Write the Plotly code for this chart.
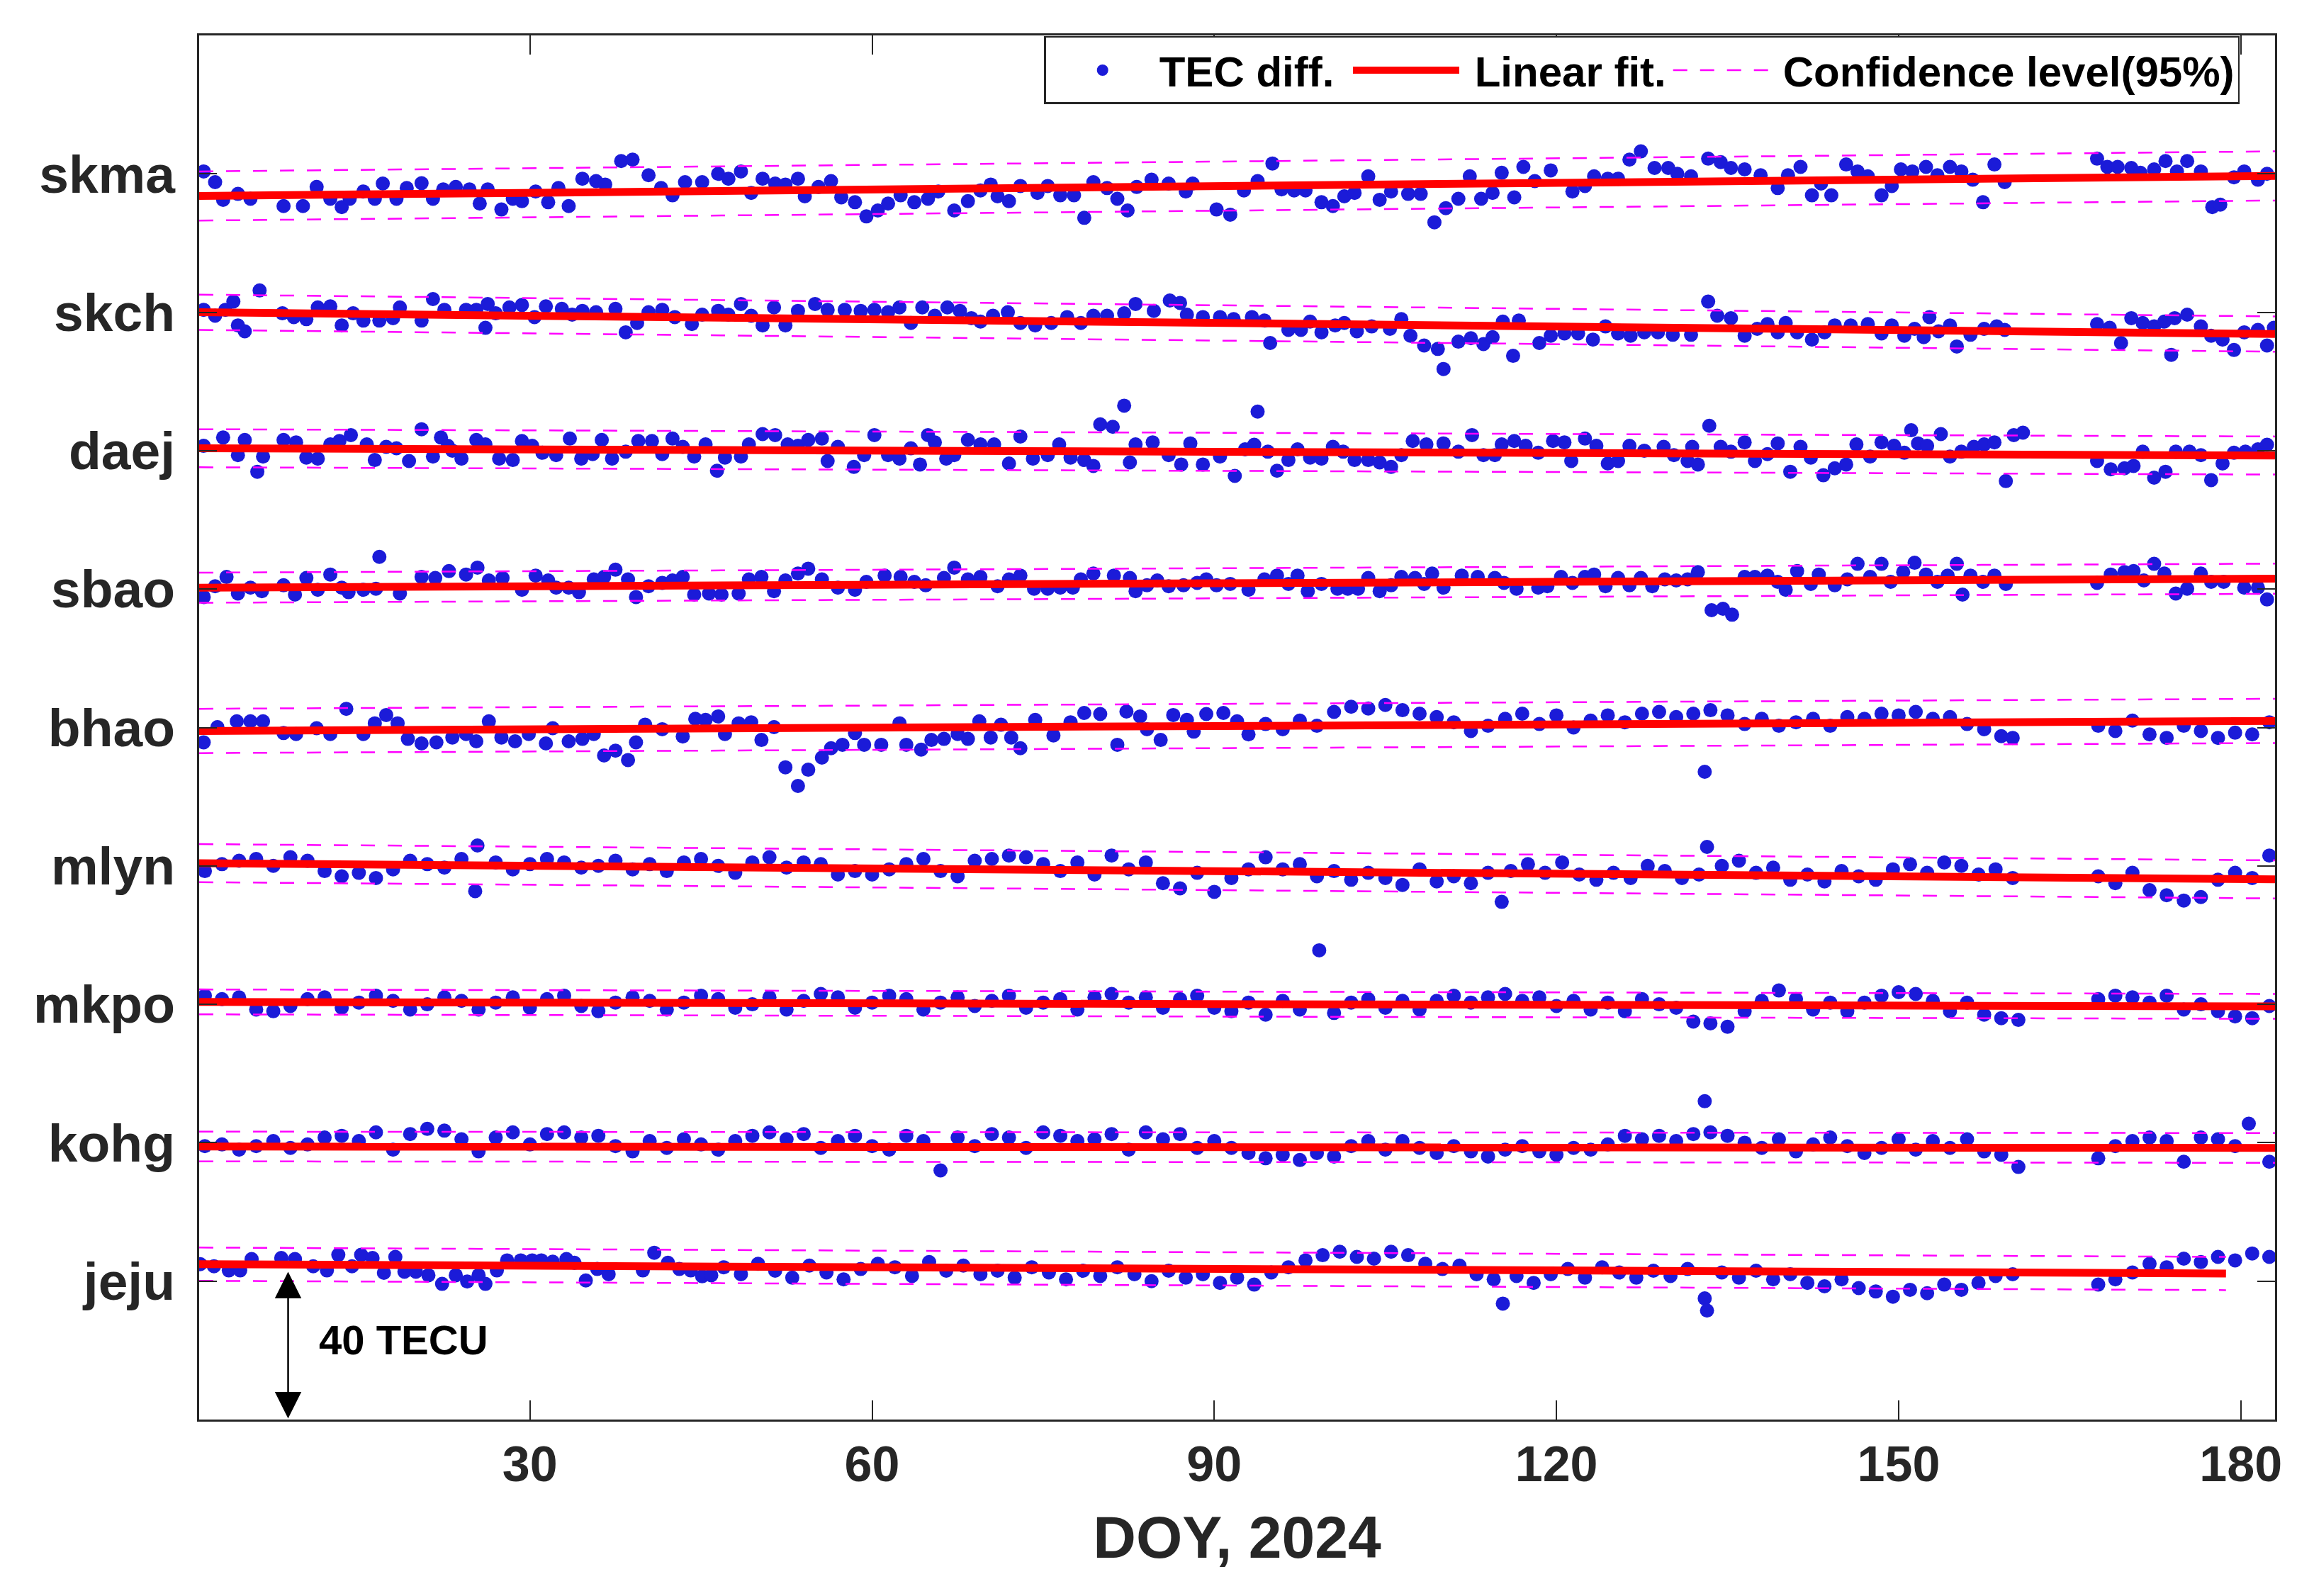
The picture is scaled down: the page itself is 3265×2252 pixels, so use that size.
import plotly.graph_objects as go

# TEC difference per station (TECU, relative to the station offset)
skma_doy = [1.4, 2.4, 3.1, 4.4, 5.5, 8.4, 10.1, 11.3, 12.5, 13.5, 14.2, 15.4, 16.4, 17.1, 18.3, 19.2, 20.5, 21.5, 22.4, 23.5,
            24.7, 25.6, 26.3, 27.5, 28.5, 29.3, 30.5, 31.6, 32.5, 33.4, 34.6, 35.8, 36.6, 38.0, 39.0, 40.4, 41.5, 42.5, 43.6, 45.1,
            46.5, 47.4, 48.5, 49.4, 50.4, 51.5, 52.4, 53.5, 54.1, 55.3, 56.4, 57.3, 58.5, 59.5, 60.5, 61.4, 62.5, 63.7, 64.9, 65.8,
            67.2, 68.4, 69.5, 70.4, 71.0, 72.0, 73.0, 74.5, 75.4, 76.5, 77.7, 78.6, 79.4, 80.6, 81.5, 82.4, 83.2, 84.5, 86.0, 87.5,
            88.1, 90.2, 91.4, 92.6, 93.8, 95.1, 95.9, 97.0, 98.0, 99.4, 100.4, 101.4, 102.3, 103.5, 104.5, 105.5, 107.0, 108.1, 109.3, 110.3,
            111.4, 112.4, 113.4, 114.4, 115.2, 116.3, 117.1, 118.1, 119.5, 121.4, 122.5, 123.3, 124.5, 125.4, 126.4, 127.4, 128.6, 129.8, 130.6, 131.8,
            133.3, 134.4, 135.3, 136.5, 137.9, 139.4, 140.3, 141.4, 142.4, 143.2, 144.1, 145.4, 146.4, 147.3, 148.5, 149.4, 150.2, 151.2, 152.4, 153.4,
            154.5, 155.5, 156.5, 157.4, 158.4, 159.3, 167.4, 168.3, 169.2, 170.4, 171.2, 172.4, 173.4, 174.4, 175.3, 176.5, 177.5, 178.2, 179.4, 180.3,
            181.5, 182.3]
skma_tec = [0.7, -2.4, -7.5, -5.8, -7.2, -9.3, -9.3, -3.8, -7.2, -9.6, -7.2, -5.1, -7.2, -2.8, -7.2, -4.1, -2.7, -7.2, -4.5, -3.8,
            -4.5, -8.6, -4.5, -10.3, -7.2, -7.9, -5.1, -8.2, -4.1, -9.3, -1.4, -2.1, -3.1, 3.7, 4.1, -0.4, -4.1, -6.2, -2.4, -2.4,
            0.0, -1.4, 0.7, -5.5, -1.4, -2.8, -3.1, -1.4, -6.5, -3.8, -2.1, -6.8, -8.2, -12.3, -10.6, -8.6, -6.2, -8.2, -7.2, -5.1,
            -10.6, -7.9, -4.8, -3.1, -6.5, -7.9, -3.5, -5.5, -3.5, -6.2, -6.2, -12.7, -2.4, -4.1, -7.2, -10.6, -3.8, -1.7, -2.8, -5.1,
            -2.8, -10.3, -11.8, -4.8, -2.1, 3.0, -4.5, -4.8, -4.8, -8.2, -9.3, -6.5, -5.5, -0.7, -7.5, -5.1, -5.8, -5.8, -14.0, -9.9,
            -7.2, -0.7, -7.2, -5.5, 0.3, -6.8, 2.0, -2.1, 1.0, -5.1, -3.5, -0.7, -1.4, -1.4, 4.1, 6.5, 1.7, 1.7, 0.0, -0.7,
            4.4, 3.4, 1.7, 1.3, -0.4, -4.1, -0.4, 2.0, -6.2, -2.8, -6.2, 2.7, 0.7, -0.7, -6.2, -3.5, 1.3, 0.7, 2.0, -0.4,
            2.0, 0.7, -1.7, -8.2, 2.7, -2.4, 4.4, 2.0, 2.0, 1.7, 0.3, 1.3, 3.7, 0.7, 3.7, 0.7, -9.6, -8.9, -1.0, 0.7,
            -1.7, 0.0]

skch_doy = [1.4, 2.4, 3.3, 4.0, 4.4, 5.0, 6.3, 8.3, 9.3, 10.4, 11.4, 12.5, 13.5, 14.5, 15.4, 16.8, 18.0, 18.6, 20.5, 21.5,
            22.5, 24.4, 25.3, 26.1, 26.3, 27.0, 28.2, 29.3, 30.4, 31.4, 32.8, 33.7, 34.6, 35.8, 37.5, 38.4, 39.4, 40.4, 41.6, 42.7,
            44.2, 45.1, 46.5, 47.4, 48.5, 49.4, 50.4, 51.4, 52.4, 53.5, 55.0, 56.1, 57.6, 59.0, 60.2, 61.4, 62.4, 63.4, 64.4, 65.5,
            66.6, 67.7, 68.7, 69.5, 70.6, 71.9, 73.0, 74.3, 75.7, 77.1, 78.3, 79.4, 80.6, 82.1, 83.1, 84.7, 86.1, 87.0, 87.6, 89.0,
            90.5, 91.7, 93.3, 94.4, 94.9, 96.5, 97.6, 98.4, 99.4, 100.6, 101.4, 102.5, 103.8, 105.4, 106.4, 107.2, 108.4, 109.6, 110.1, 111.4,
            112.5, 113.6, 114.4, 115.3, 116.2, 116.7, 118.5, 119.5, 120.7, 121.9, 123.2, 124.3, 125.4, 126.5, 127.7, 128.9, 130.2, 131.8, 133.3, 134.1,
            135.3, 136.5, 137.6, 138.5, 139.4, 140.1, 141.1, 142.4, 143.5, 144.4, 145.8, 147.3, 148.5, 149.4, 150.5, 151.4, 152.2, 152.7, 153.5, 154.5,
            155.1, 156.3, 157.5, 158.6, 159.3, 167.4, 168.5, 169.5, 170.4, 171.4, 172.4, 173.3, 173.9, 174.2, 175.3, 176.5, 177.4, 178.4, 179.4, 180.3,
            181.5, 182.3, 182.9]
skch_tec = [0.7, -1.0, 0.7, 3.1, -3.8, -5.5, 6.3, -0.3, -1.4, -2.0, 1.4, 1.7, -3.8, -0.3, -2.4, -2.4, -1.7, 1.4, -2.4, 3.8,
            0.7, 0.7, 0.7, -4.5, 2.4, -0.3, 1.4, 2.1, -1.4, 1.7, 1.0, -0.7, 0.4, 0.0, 1.0, -5.8, -3.1, 0.0, 0.7, -1.4,
            -3.4, -0.7, 0.4, -0.7, 2.4, -1.0, -3.8, 1.4, -3.8, 0.4, 2.4, 0.7, 0.7, 0.4, 0.7, 0.0, 1.4, -3.1, 1.4, -1.0,
            1.4, 0.4, -1.7, -2.7, -1.0, 0.0, -3.1, -3.8, -3.1, -1.4, -3.1, -1.0, -1.0, -0.3, 2.4, 0.4, 3.4, 2.7, -0.7, -1.4,
            -1.4, -2.0, -1.4, -2.4, -8.9, -5.1, -5.1, -2.7, -5.8, -3.8, -3.1, -5.5, -4.1, -4.8, -2.0, -6.8, -9.6, -10.6, -16.4, -8.5,
            -7.5, -9.2, -7.2, -2.7, -12.6, -2.4, -8.9, -6.8, -6.1, -6.1, -7.9, -4.1, -6.1, -6.8, -5.8, -5.8, -6.5, -6.5, 3.1, -1.0,
            -1.7, -6.8, -4.8, -3.4, -5.8, -3.1, -5.8, -7.9, -5.8, -3.8, -3.8, -3.4, -6.1, -3.8, -6.8, -4.8, -7.2, -1.4, -5.5, -3.8,
            -9.9, -6.5, -4.8, -4.1, -5.1, -3.4, -4.5, -8.9, -1.7, -3.1, -4.1, -2.7, -12.3, -1.7, -0.7, -4.1, -6.8, -7.9, -10.9, -5.8,
            -5.1, -9.6, -4.5]

daej_doy = [1.4, 3.1, 4.4, 5.0, 6.1, 6.6, 8.4, 9.5, 10.4, 11.4, 12.5, 13.3, 14.3, 15.7, 16.4, 17.4, 18.3, 19.4, 20.5, 21.5,
            22.2, 22.8, 23.2, 24.0, 25.3, 26.1, 27.3, 28.5, 29.3, 30.2, 31.1, 32.3, 33.5, 34.5, 35.5, 36.3, 37.2, 38.4, 39.5, 40.7,
            41.6, 42.5, 43.4, 44.4, 45.4, 46.4, 47.1, 48.5, 49.2, 50.4, 51.5, 52.6, 53.5, 54.4, 55.6, 56.1, 57.0, 58.4, 59.3, 60.2,
            61.4, 62.4, 63.4, 64.2, 64.9, 65.5, 66.5, 67.2, 68.4, 69.5, 70.7, 72.0, 73.0, 74.1, 75.4, 76.4, 77.4, 78.6, 79.4, 80.0,
            81.1, 82.1, 82.6, 83.1, 84.6, 86.0, 87.1, 87.9, 89.0, 90.5, 91.8, 92.7, 93.8, 93.5, 94.7, 95.5, 96.5, 97.3, 98.4, 99.4,
            100.4, 101.3, 102.3, 103.5, 104.5, 105.5, 106.4, 107.4, 108.6, 110.1, 111.4, 112.6, 113.6, 114.6, 115.2, 116.3, 117.3, 118.4, 119.7, 120.7,
            121.3, 122.5, 123.5, 124.5, 125.4, 126.4, 127.7, 129.4, 130.3, 131.5, 132.4, 131.9, 133.4, 134.4, 135.3, 136.5, 137.4, 138.5, 139.4, 140.5,
            141.4, 142.3, 143.4, 144.4, 145.4, 146.3, 147.5, 148.5, 149.6, 150.5, 151.1, 151.7, 152.5, 153.7, 154.5, 155.5, 156.6, 157.5, 158.4, 159.4,
            160.1, 160.9, 167.4, 168.6, 169.8, 170.6, 171.4, 172.4, 173.4, 174.3, 175.5, 176.5, 177.4, 178.4, 179.4, 180.4, 181.5, 182.3]
daej_tec = [1.4, 3.8, -1.3, 3.1, -6.1, -1.7, 3.1, 2.4, -2.0, -2.3, 1.8, 2.8, 4.5, 1.8, -2.7, 1.1, 0.7, -3.0, 6.2, -1.7,
            3.8, 1.4, 0.0, -2.3, 3.1, 1.8, -2.3, -2.7, 2.8, 1.4, -0.6, -1.3, 3.5, -2.3, -1.0, 3.1, -2.3, -0.3, 2.8, 2.8,
            -1.0, 3.5, 1.1, -1.7, 1.8, -5.8, -2.0, -1.7, 1.8, 4.8, 4.5, 1.8, 1.4, 3.1, 3.5, -3.0, 1.1, -4.7, -1.3, 4.5,
            -1.3, -2.3, 0.7, -4.0, 4.5, 2.4, -2.3, -1.3, 3.1, 1.8, 1.8, -3.7, 4.1, -2.3, -1.3, 1.8, -2.0, -2.7, -4.4, 7.6,
            6.9, 13.0, -3.4, 1.8, 2.4, -1.3, -4.0, 2.1, -4.0, -1.7, -7.3, 0.4, 11.3, 1.7, -0.3, -5.8, -2.7, 0.4, -2.0, -2.3,
            1.1, -0.3, -2.7, -2.7, -3.4, -4.7, -1.3, 2.8, 1.8, 2.1, -0.3, 4.5, -1.3, -1.3, 1.8, 2.8, 1.4, -0.6, 2.8, 2.4,
            -3.0, 3.5, 1.4, -3.7, -3.0, 1.4, 0.0, 1.1, -1.3, -3.0, -4.0, 1.1, 7.2, 1.1, -0.3, 2.4, -3.0, -1.0, 2.1, -6.1,
            1.1, -2.0, -7.1, -5.1, -4.0, 1.8, -1.7, 2.4, 1.4, -0.6, 5.9, 2.1, 1.4, 4.8, -1.7, -0.3, 1.1, 1.8, 2.4, -8.8,
            4.5, 5.2, -3.0, -5.4, -5.1, -4.4, -0.3, -7.8, -6.1, -0.3, -0.3, -1.3, -8.5, -3.7, -0.6, -0.3, 0.4, 1.7]

sbao_doy = [1.4, 2.4, 3.4, 4.4, 5.5, 6.5, 8.4, 9.4, 10.4, 11.4, 12.5, 13.5, 14.1, 15.4, 16.5, 16.8, 18.6, 20.5, 21.7, 22.9,
            24.4, 25.4, 26.4, 27.6, 29.3, 30.5, 31.6, 32.3, 33.4, 34.3, 35.6, 36.5, 37.5, 38.6, 39.3, 40.4, 41.6, 42.5, 43.4, 44.4,
            45.7, 46.8, 48.3, 49.2, 50.3, 51.4, 52.4, 53.5, 54.4, 55.6, 57.0, 58.5, 59.5, 61.1, 62.5, 63.7, 64.7, 66.3, 67.2, 68.4,
            69.5, 71.0, 72.0, 73.0, 74.2, 75.4, 76.5, 77.6, 78.3, 79.4, 81.2, 82.6, 83.1, 84.1, 85.0, 86.0, 87.3, 88.5, 89.3, 90.2,
            91.4, 93.0, 94.4, 95.5, 96.5, 97.3, 98.2, 99.4, 100.8, 101.7, 102.6, 103.5, 104.5, 105.5, 106.4, 107.6, 108.4, 109.1, 110.1, 111.7,
            113.1, 114.6, 115.4, 116.5, 118.4, 119.2, 120.4, 121.4, 122.5, 123.3, 124.3, 125.4, 126.4, 127.4, 128.4, 129.5, 130.5, 131.5, 132.4, 133.6,
            134.6, 135.4, 136.5, 137.4, 138.5, 139.4, 140.1, 141.1, 142.3, 143.0, 144.4, 145.5, 146.4, 147.5, 148.5, 149.3, 150.4, 151.4, 152.4, 153.4,
            154.3, 155.1, 155.6, 156.3, 157.4, 158.4, 159.4, 167.4, 168.6, 169.8, 170.6, 171.5, 172.4, 173.3, 174.3, 175.3, 176.5, 177.4, 178.5, 180.3,
            181.5, 182.3]
sbao_tec = [-2.3, 0.8, 3.5, -1.3, 0.4, -0.6, 1.1, -1.6, 3.2, -0.2, 4.2, 0.4, -0.9, -0.2, 0.1, 9.3, -1.3, 3.5, 3.2, 5.2,
            4.2, 6.2, 2.5, 3.2, -0.2, 3.9, 2.5, 0.4, 0.4, -0.9, 2.8, 3.5, 5.6, 2.8, -2.3, 0.8, 1.8, 2.5, 3.5, -1.6,
            -1.3, -1.6, -1.3, 2.8, 3.5, -0.6, 2.5, 4.5, 5.9, 2.8, 0.4, -0.2, 2.1, 3.9, 3.5, 2.1, 1.1, 3.2, 6.2, 2.8,
            3.5, 0.8, 2.8, 3.9, 0.1, 0.1, 0.4, 0.4, 2.8, 4.5, 3.9, 3.2, -0.6, 1.1, 2.5, 0.8, 1.1, 1.8, 2.8, 1.1,
            1.5, -0.2, 2.8, 3.9, 1.5, 3.9, -0.6, 1.5, 0.1, 0.1, 0.1, 3.2, -0.6, 1.1, 3.5, 3.2, 1.5, 4.5, 0.4, 3.9,
            3.5, 3.2, 1.8, 0.1, 0.4, 0.8, 3.5, 1.8, 3.5, 4.2, 0.8, 3.2, 1.1, 3.2, 0.8, 2.8, 2.5, 2.8, 4.9, -6.1,
            -5.7, -7.4, 3.5, 3.5, 3.9, 2.1, -0.2, 5.2, 1.5, 4.2, 1.1, 2.8, 7.3, 3.5, 7.3, 2.1, 4.9, 7.6, 4.2, 2.1,
            3.9, 7.3, -1.6, 3.9, 2.1, 3.9, 1.5, 1.8, 4.2, 4.9, 5.2, 2.5, 7.3, 4.5, -1.3, 0.1, 4.5, 2.1, 2.1, 0.4,
            0.4, -3.0]

bhao_doy = [1.4, 2.6, 4.3, 5.5, 6.6, 8.4, 9.5, 11.3, 12.5, 13.9, 15.4, 16.4, 17.4, 18.4, 19.3, 20.5, 21.8, 23.2, 24.4, 25.3,
            26.4, 27.5, 28.7, 29.9, 31.4, 32.0, 33.4, 34.6, 35.6, 36.5, 37.5, 38.6, 39.3, 40.1, 41.6, 43.4, 44.5, 45.4, 46.5, 47.1,
            48.3, 49.4, 50.3, 51.4, 52.4, 53.5, 54.4, 55.6, 56.4, 57.4, 58.5, 59.3, 60.8, 62.4, 63.0, 64.3, 65.2, 66.3, 67.5, 68.4,
            69.4, 70.4, 71.3, 72.2, 73.0, 74.3, 75.9, 77.4, 78.6, 80.0, 81.5, 82.3, 83.5, 84.1, 85.3, 86.4, 87.6, 88.2, 89.3, 90.8,
            92.0, 93.0, 94.5, 96.0, 97.5, 99.0, 100.5, 102.0, 103.5, 105.0, 106.5, 108.0, 109.5, 111.0, 112.5, 114.0, 115.5, 117.0, 118.5, 120.0,
            121.5, 123.0, 124.5, 126.0, 127.5, 129.0, 130.5, 132.0, 133.0, 133.5, 135.0, 136.5, 138.0, 139.5, 141.0, 142.5, 144.0, 145.5, 147.0, 148.5,
            150.0, 151.5, 153.0, 154.5, 156.0, 157.5, 159.0, 160.0, 167.5, 169.0, 170.5, 172.0, 173.5, 175.0, 176.5, 178.0, 179.5, 181.0, 182.5]
bhao_tec = [-4.3, 0.1, 1.8, 1.8, 1.8, -1.6, -1.9, -0.2, -1.9, 5.4, -1.9, 1.2, 3.6, 1.2, -3.3, -4.6, -4.3, -2.9, -1.9, -4.0,
            1.8, -2.9, -4.0, -1.9, -4.6, -0.2, -4.0, -3.3, -1.9, -8.1, -6.7, -9.4, -4.3, 0.8, -0.5, -2.6, 2.5, 2.2, 3.2, -1.9,
            1.2, 1.5, -3.6, 0.1, -11.5, -16.9, -12.2, -8.7, -6.0, -5.0, -1.6, -5.0, -5.0, 1.2, -5.0, -6.4, -3.6, -3.3, -1.9, -3.3,
            1.8, -2.9, 0.8, -2.9, -6.0, 2.2, -2.3, 1.5, 4.2, 3.9, -5.0, 4.6, 3.2, -0.5, -3.6, 3.6, 2.2, -1.2, 3.9, 4.2,
            1.8, -2.0, 1.0, -0.5, 2.0, 0.5, 4.5, 6.0, 5.5, 6.5, 5.0, 4.0, 3.0, 1.5, -1.0, 0.5, 2.5, 4.0, 1.0, 3.5,
            0.0, 2.0, 3.5, 1.5, 4.0, 4.5, 3.0, 4.0, -12.8, 5.0, 3.5, 1.0, 2.5, 0.5, 1.5, 2.5, 0.5, 3.0, 2.5, 4.0,
            3.5, 4.5, 2.5, 3.0, 1.0, -0.5, -2.5, -3.0, 0.5, -1.0, 2.0, -2.0, -3.0, 0.5, -1.0, -3.0, -1.5, -2.0, 1.5]

mlyn_doy = [1.5, 3.0, 4.5, 6.0, 7.5, 9.0, 10.5, 12.0, 13.5, 15.0, 16.5, 18.0, 19.5, 21.0, 22.5, 24.0, 25.2, 25.4, 27.0, 28.5,
            30.0, 31.5, 33.0, 34.5, 36.0, 37.5, 39.0, 40.5, 42.0, 43.5, 45.0, 46.5, 48.0, 49.5, 51.0, 52.5, 54.0, 55.5, 57.0, 58.5,
            60.0, 61.5, 63.0, 64.5, 66.0, 67.5, 69.0, 70.5, 72.0, 73.5, 75.0, 76.5, 78.0, 79.5, 81.0, 82.5, 84.0, 85.5, 87.0, 88.5,
            90.0, 91.5, 93.0, 94.5, 96.0, 97.5, 99.0, 100.5, 102.0, 103.5, 105.0, 106.5, 108.0, 109.5, 111.0, 112.5, 114.0, 115.2, 116.0, 117.5,
            119.0, 120.5, 122.0, 123.5, 125.0, 126.5, 128.0, 129.5, 131.0, 132.5, 133.2, 134.5, 136.0, 137.5, 139.0, 140.5, 142.0, 143.5, 145.0, 146.5,
            148.0, 149.5, 151.0, 152.5, 154.0, 155.5, 157.0, 158.5, 160.0, 167.5, 169.0, 170.5, 172.0, 173.5, 175.0, 176.5, 178.0, 179.5, 181.0, 182.5]
mlyn_tec = [-1.5, 0.5, 1.5, 2.0, 0.0, 2.5, 1.5, -1.5, -3.0, -2.0, -3.5, -1.0, 1.5, 0.5, -0.5, 2.0, -7.3, 5.9, 1.0, -1.0,
            0.5, 2.0, 1.0, -0.5, 0.0, 1.5, -1.0, 0.5, -1.5, 1.0, 2.0, 0.0, -2.0, 1.0, 2.5, -0.5, 1.0, 0.5, -2.5, -1.5,
            -2.5, -1.0, 0.5, 2.0, -1.5, -3.0, 1.5, 2.0, 3.0, 2.5, 0.5, -1.5, 1.0, -2.5, 3.0, -1.0, 1.0, -5.0, -6.5, -2.0,
            -7.5, -3.5, -1.0, 2.5, -1.0, 0.5, -3.0, -1.5, -4.0, -2.0, -3.5, -5.5, -1.0, -4.5, -3.0, -5.0, -2.0, -10.4, -1.5, 0.5,
            -2.0, 1.0, -2.5, -4.0, -2.0, -3.5, 0.0, -1.5, -3.5, -2.5, 5.5, 0.0, 1.5, -2.0, -0.5, -4.0, -2.5, -4.5, -1.5, -3.0,
            -4.0, -1.0, 0.5, -2.0, 1.0, 0.0, -2.5, -1.0, -3.5, -3.0, -5.0, -2.0, -7.0, -8.5, -10.0, -9.0, -4.0, -2.0, -3.5, 3.0]

mkpo_doy = [1.5, 3.0, 4.5, 6.0, 7.5, 9.0, 10.5, 12.0, 13.5, 15.0, 16.5, 18.0, 19.5, 21.0, 22.5, 24.0, 25.5, 27.0, 28.5, 30.0,
            31.5, 33.0, 34.5, 36.0, 37.5, 39.0, 40.5, 42.0, 43.5, 45.0, 46.5, 48.0, 49.5, 51.0, 52.5, 54.0, 55.5, 57.0, 58.5, 60.0,
            61.5, 63.0, 64.5, 66.0, 67.5, 69.0, 70.5, 72.0, 73.5, 75.0, 76.5, 78.0, 79.5, 81.0, 82.5, 84.0, 85.5, 87.0, 88.5, 90.0,
            91.5, 93.0, 94.5, 96.0, 97.5, 99.2, 100.5, 102.0, 103.5, 105.0, 106.5, 108.0, 109.5, 111.0, 112.5, 114.0, 115.5, 117.0, 118.5, 120.0,
            121.5, 123.0, 124.5, 126.0, 127.5, 129.0, 130.5, 132.0, 133.5, 135.0, 136.5, 138.0, 139.5, 141.0, 142.5, 144.0, 145.5, 147.0, 148.5, 150.0,
            151.5, 153.0, 154.5, 156.0, 157.5, 159.0, 160.5, 167.5, 169.0, 170.5, 172.0, 173.5, 175.0, 176.5, 178.0, 179.5, 181.0, 182.5]
mkpo_tec = [2.5, 1.5, 2.0, -1.5, -2.0, -0.5, 1.5, 2.0, -1.0, 0.5, 2.5, 1.0, -1.5, 0.0, 2.0, 1.0, -1.5, 0.5, 2.0, -1.0,
            1.5, 2.5, -0.5, -2.0, 0.5, 2.0, 1.0, -1.5, 0.5, 2.5, 1.5, -1.0, 0.0, 2.0, -1.5, 1.0, 3.0, 2.0, -1.0, 0.5,
            2.5, 1.5, -1.5, 0.5, 2.0, -0.5, 1.0, 2.5, -1.0, 0.5, 1.5, -1.5, 2.0, 3.0, 0.5, 2.0, -1.0, 1.5, 2.5, -1.0,
            -2.0, 0.5, -3.0, 1.0, -1.5, 15.6, -2.5, 0.5, 1.5, -1.0, 1.0, -1.5, 1.0, 2.5, 0.5, 2.0, 3.0, 1.0, 2.0, -0.5,
            1.0, -1.5, 0.5, -2.0, 1.5, 0.0, -1.0, -5.0, -5.5, -6.5, -2.0, 1.0, 4.0, 1.5, -1.5, 0.5, -2.0, 0.5, 2.5, 3.5,
            3.0, 1.0, -2.0, 0.5, -3.0, -4.0, -4.5, 1.5, 2.5, 2.0, 0.5, 2.5, -1.5, 0.0, -2.0, -3.5, -4.0, -0.5]

kohg_doy = [1.5, 3.0, 4.5, 6.0, 7.5, 9.0, 10.5, 12.0, 13.5, 15.0, 16.5, 18.0, 19.5, 21.0, 22.5, 24.0, 25.5, 27.0, 28.5, 30.0,
            31.5, 33.0, 34.5, 36.0, 37.5, 39.0, 40.5, 42.0, 43.5, 45.0, 46.5, 48.0, 49.5, 51.0, 52.5, 54.0, 55.5, 57.0, 58.5, 60.0,
            61.5, 63.0, 64.5, 66.0, 67.5, 69.0, 70.5, 72.0, 73.5, 75.0, 76.5, 78.0, 79.5, 81.0, 82.5, 84.0, 85.5, 87.0, 88.5, 90.0,
            91.5, 93.0, 94.5, 96.0, 97.5, 99.0, 100.5, 102.0, 103.5, 105.0, 106.5, 108.0, 109.5, 111.0, 112.5, 114.0, 115.5, 117.0, 118.5, 120.0,
            121.5, 123.0, 124.5, 126.0, 127.5, 129.0, 130.5, 132.0, 133.0, 133.5, 135.0, 136.5, 138.0, 139.5, 141.0, 142.5, 144.0, 145.5, 147.0, 148.5,
            150.0, 151.5, 153.0, 154.5, 156.0, 157.5, 159.0, 160.5, 167.5, 169.0, 170.5, 172.0, 173.5, 175.0, 176.5, 178.0, 179.5, 180.7, 182.5]
kohg_tec = [-1.0, -0.5, -2.0, -1.0, 0.5, -1.5, -0.5, 1.5, 2.0, 0.5, 3.0, -2.0, 2.5, 4.0, 3.5, 1.0, -2.5, 1.5, 3.0, -0.5,
            2.5, 3.0, 1.5, 2.0, -1.0, -2.5, 0.5, -1.5, 1.0, -0.5, -2.0, 0.5, 2.0, 3.0, 1.0, 2.5, -1.5, 0.5, 2.0, -1.0,
            -2.0, 2.0, 0.5, -8.0, 1.5, -1.0, 2.5, 1.5, -1.5, 3.0, 2.0, 0.5, 1.0, 2.5, -2.0, 3.0, 1.0, 2.5, -1.5, 0.5,
            -1.5, -3.0, -4.5, -3.5, -5.0, -3.0, -4.0, -1.0, 0.5, -2.0, 0.5, -1.5, -3.0, -1.0, -2.5, -4.0, -2.0, -1.0, -2.5, -3.5,
            -1.5, -2.0, -0.5, 2.0, 1.0, 2.0, 0.5, 2.5, 12.0, 3.0, 2.0, 0.0, -1.5, 1.0, -2.5, -0.5, 1.5, -1.0, -3.0, -1.5,
            1.0, -2.0, 0.5, -1.5, 1.0, -2.5, -3.5, -7.0, -4.5, -1.0, 0.5, 1.5, 0.5, -5.5, 1.5, 1.0, -1.0, 5.5, -5.5]

jeju_doy = [1.1, 2.3, 3.6, 4.6, 5.6, 8.2, 9.4, 11.0, 12.2, 13.2, 14.4, 15.2, 16.2, 17.2, 18.2, 19.0, 20.0, 21.1, 22.3, 23.5,
            24.5, 25.5, 26.1, 27.1, 28.0, 29.2, 30.2, 31.0, 32.0, 33.2, 33.9, 34.9, 35.9, 36.9, 39.9, 40.9, 42.1, 43.1, 44.1, 45.1,
            45.9, 47.0, 48.5, 50.0, 51.5, 53.0, 54.5, 56.0, 57.5, 59.0, 60.5, 62.0, 63.5, 65.0, 66.5, 68.0, 69.5, 71.0, 72.5, 74.0,
            75.5, 77.0, 78.5, 80.0, 81.5, 83.0, 84.5, 86.0, 87.5, 89.0, 90.5, 92.0, 93.5, 95.0, 96.5, 98.0, 99.5, 101.0, 102.5, 104.0,
            105.5, 107.0, 108.5, 110.0, 111.5, 113.0, 114.5, 115.3, 116.5, 118.0, 119.5, 121.0, 122.5, 124.0, 125.5, 127.0, 128.5, 130.0, 131.5, 133.0,
            133.2, 134.5, 136.0, 137.5, 139.0, 140.5, 142.0, 143.5, 145.0, 146.5, 148.0, 149.5, 151.0, 152.5, 154.0, 155.5, 157.0, 158.5, 160.0, 167.5,
            169.0, 170.5, 172.0, 173.5, 175.0, 176.5, 178.0, 179.5, 181.0, 182.5]
jeju_tec = [4.9, 4.3, 3.1, 3.1, 6.4, 6.7, 6.4, 4.3, 3.1, 7.6, 4.3, 7.6, 6.7, 2.4, 7.0, 2.7, 2.7, 1.7, -0.8, 1.7,
            -0.1, 1.7, -0.8, 3.1, 6.0, 6.0, 6.0, 6.0, 5.6, 6.4, 5.3, 0.2, 3.5, 2.0, 3.1, 8.2, 5.3, 3.5, 3.1, 1.4,
            1.7, 4.0, 2.0, 5.0, 3.0, 1.0, 4.5, 2.5, 0.5, 3.5, 5.0, 4.0, 1.5, 5.5, 3.0, 4.5, 2.0, 3.0, 1.0, 4.0,
            2.5, 0.5, 3.0, 1.5, 4.0, 2.0, 0.0, 3.0, 1.0, 2.0, -0.5, 1.0, -1.0, 2.5, 4.0, 6.0, 7.5, 8.5, 7.0, 6.5,
            8.5, 7.5, 5.0, 3.5, 4.5, 2.0, 0.5, -6.5, 1.5, -0.5, 2.0, 3.5, 1.0, 4.0, 2.5, 1.0, 3.0, 1.5, 3.5, -5.0,
            -8.5, 2.5, 1.0, 3.0, 0.5, 2.0, -0.5, -1.5, 0.5, -2.0, -3.0, -4.5, -2.5, -3.5, -1.0, -2.5, -0.5, 1.5, 2.0, -1.0,
            0.5, 2.5, 5.0, 4.0, 6.5, 5.5, 7.0, 6.0, 8.0, 7.0]

stations = ["skma", "skch", "daej", "sbao", "bhao", "mlyn", "mkpo", "kohg", "jeju"]
offsets = [360, 320, 280, 240, 200, 160, 120, 80, 40]
doys = [skma_doy, skch_doy, daej_doy, sbao_doy, bhao_doy, mlyn_doy, mkpo_doy, kohg_doy, jeju_doy]
tecs = [skma_tec, skch_tec, daej_tec, sbao_tec, bhao_tec, mlyn_tec, mkpo_tec, kohg_tec, jeju_tec]
# linear fit (TECU rel. to offset) at its first/last DOY, and 95% half width
fit_first = [-6.4, 0.0, 0.7, 0.4, -1.0, 0.8, 0.7, -1.1, 4.9]
fit_last = [-0.6, -6.3, -1.4, 3.0, 1.9, -3.9, -0.6, -1.5, 2.2]
fit_end = [183, 183, 183, 183, 183, 183, 183, 183, 178.7]
conf_half = [7.1, 5.1, 5.5, 4.35, 6.4, 5.5, 3.6, 4.3, 4.8]
doy_first, doy_last = 1, 183

FONT = "Liberation Sans, Arial, sans-serif"
AX = "#262626"

dot_x, dot_y = [], []
fit_x, fit_y = [], []
ci_x, ci_y = [], []
for off, dx, dt, f0, f1, e, h in zip(offsets, doys, tecs, fit_first, fit_last, fit_end, conf_half):
    dot_x += dx
    dot_y += [off + t for t in dt]
    fit_x += [doy_first, e, None]
    fit_y += [off + f0, off + f1, None]
    ci_x += [doy_first, e, None, doy_first, e, None]
    ci_y += [off + f0 + h, off + f1 + h, None, off + f0 - h, off + f1 - h, None]

fig = go.Figure()
fig.add_trace(go.Scatter(x=dot_x, y=dot_y, mode="markers", name="TEC diff.\u00a0",
                         marker=dict(color="#1B1BD8", size=20, line=dict(width=0))))
fig.add_trace(go.Scatter(x=fit_x, y=fit_y, mode="lines", name="\u00a0Linear fit.",
                         line=dict(color="#FF0000", width=11)))
fig.add_trace(go.Scatter(x=ci_x, y=ci_y, mode="lines", name="Confidence level(95%)",
                         line=dict(color="#FF00FF", width=2.5, dash="20px,18px")))

# 40 TECU scale bar
fig.add_annotation(x=8.8, y=0.3, ax=8.8, ay=43, xref="x", yref="y", axref="x", ayref="y",
                   text="", showarrow=True, arrowhead=2, startarrowhead=2, arrowside="end+start",
                   arrowsize=3, arrowwidth=2.5, arrowcolor="black")
fig.add_annotation(x=11.4, y=23, xref="x", yref="y", text="40 TECU", showarrow=False,
                   xanchor="left", yanchor="middle", font=dict(family=FONT, size=58, color="black", weight="bold"))

fig.update_layout(
    width=3265, height=2252,
    margin=dict(l=273, r=63, t=42, b=257),
    paper_bgcolor="white", plot_bgcolor="white",
    font=dict(family=FONT, color=AX, weight="bold"),
    legend=dict(orientation="h", x=0.983, xanchor="right", y=0.9995, yanchor="top",
                bgcolor="white", bordercolor=AX, borderwidth=2.5,
                font=dict(family=FONT, size=60, color="black", weight="bold"),
                itemwidth=150, tracegroupgap=0),
    xaxis=dict(range=[doy_first, doy_last], tickvals=[30, 60, 90, 120, 150, 180],
               ticks="inside", ticklen=27, tickwidth=2, tickcolor=AX,
               showline=True, linecolor=AX, linewidth=3, mirror="allticks",
               showgrid=False, zeroline=False,
               tickfont=dict(family=FONT, size=70, color=AX, weight="bold"),
               title=dict(text="DOY, 2024", standoff=36,
                          font=dict(family=FONT, size=84, color=AX, weight="bold"))),
    yaxis=dict(range=[0, 400], tickvals=offsets, ticktext=stations,
               ticks="inside", ticklen=25, tickwidth=2, tickcolor=AX,
               showline=True, linecolor=AX, linewidth=3, mirror="allticks",
               showgrid=False, zeroline=False, ticklabelstandoff=16,
               tickfont=dict(family=FONT, size=75, color=AX, weight="bold")),
)

fig.write_html("out.html")
